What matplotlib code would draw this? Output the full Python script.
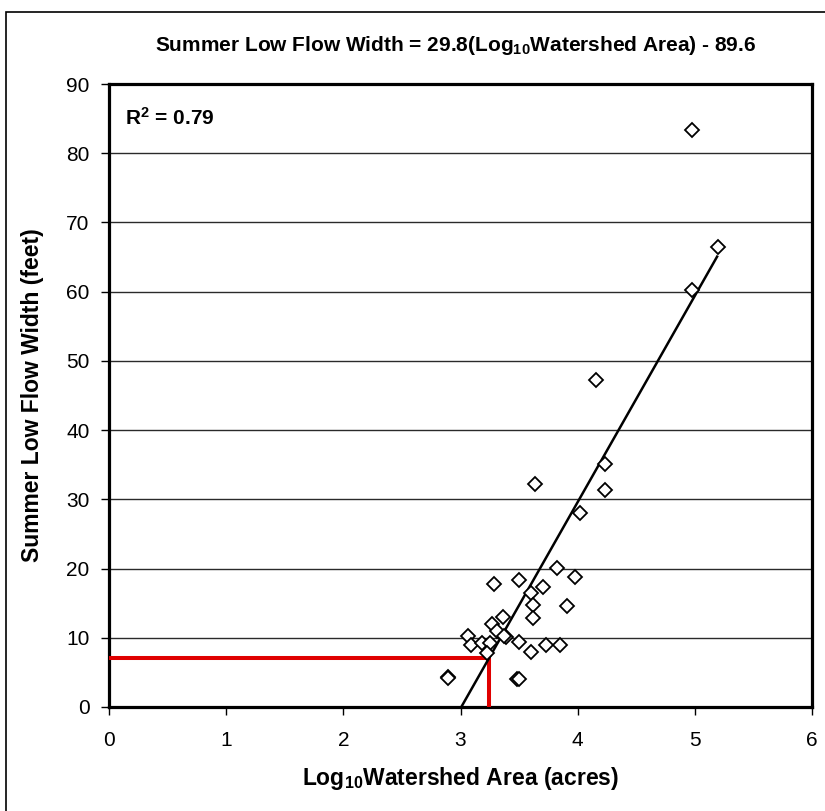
import matplotlib
matplotlib.use("Agg")
import matplotlib.pyplot as plt
import numpy as np
from matplotlib.patches import Rectangle

# observed points: log10 watershed area vs summer low flow width
log_area = [3.29, 3.50, 3.82, 3.98, 3.70, 3.60, 3.62, 3.91, 3.62, 3.36,
            3.27, 3.31, 3.06, 3.39, 3.37, 3.09, 3.18, 3.25, 3.50, 3.73,
            3.85, 3.60, 3.23, 2.89, 2.89, 3.48, 3.50,
            4.98, 5.20, 4.98, 4.16, 4.23, 3.64, 4.23, 4.02]
width_ft = [17.8, 18.3, 20.1, 18.8, 17.3, 16.5, 14.8, 14.6, 12.8, 13.0,
            12.0, 11.0, 10.3, 10.1, 10.2, 9.0, 9.2, 9.2, 9.4, 9.0,
            9.0, 7.9, 7.8, 4.4, 4.2, 4.0, 4.0,
            83.4, 66.5, 60.2, 47.2, 35.1, 32.2, 31.3, 28.0]

# regression: width = 29.8 * log10(area) - 89.6
slope = 29.8
intercept = -89.6
fit_x = [-intercept / slope, 5.19]

# example reading (red guide lines)
ex_x = 3.245
ex_y = 7.1

plt.rcParams['font.family'] = ['Liberation Sans', 'DejaVu Sans']
plt.rcParams['mathtext.fontset'] = 'custom'
plt.rcParams['mathtext.rm'] = 'Liberation Sans'
plt.rcParams['mathtext.bf'] = 'Liberation Sans:bold'
plt.rcParams['mathtext.it'] = 'Liberation Sans:italic'

fig = plt.figure(figsize=(8.25, 8.11), dpi=100)
ax = fig.add_axes([109 / 825, 104 / 811, 703 / 825, 623 / 811])

ax.set_xlim(0, 6)
ax.set_ylim(0, 90)
ax.set_yticks(np.arange(0, 91, 10))
ax.set_xticks(np.arange(0, 7, 1))
ax.grid(axis='y', color='#2a2a2a', linewidth=1.0)
ax.set_axisbelow(True)

ax.plot(ex_x * np.array([0, 1, 1]), [ex_y, ex_y, 0], color='#e00000', lw=2.9,
        solid_joinstyle='miter', zorder=3)

fx = np.array(fit_x)
ax.plot(fx, slope * fx + intercept, color='black', lw=1.8, zorder=4)

ax.plot(log_area, width_ft, linestyle='none', marker='D', markersize=6.8,
        markerfacecolor='white', markeredgecolor='black', markeredgewidth=1.3,
        zorder=5, clip_on=False)

for s in ax.spines.values():
    s.set_linewidth(2.3)
ax.tick_params(direction='out', length=5.5, width=1, labelsize=15)
ax.tick_params(axis='x', pad=12)
ax.tick_params(axis='y', pad=8.5)

ax.set_xlabel(r'Log$_{\mathbf{10}}$Watershed Area (acres)', fontsize=16.5,
              fontweight='bold', va='center')
ax.xaxis.set_label_coords(0.5, (707 - 778) / 623)
ax.set_ylabel('Summer Low Flow Width (feet)', fontsize=16.5, fontweight='bold',
              va='center')
ax.yaxis.set_label_coords((33 - 109) / 703, 0.5)

fig.text(456 / 825, 1 - 51 / 811,
         r'Summer Low Flow Width = 29.8(Log$_{\mathbf{10}}$Watershed Area) - 89.6',
         ha='center', va='baseline', fontsize=15, fontweight='bold')
ax.text(0.0228, 0.934, r'R$^{\mathbf{2}}$ = 0.79', transform=ax.transAxes,
        ha='left', va='baseline', fontsize=15, fontweight='bold')

# outer chart frame
fig.add_artist(Rectangle((6 / 825, -0.1), 1.2, 1 - 12 / 811 + 0.1,
                         transform=fig.transFigure, fill=False,
                         edgecolor='black', lw=1.2))

fig.savefig('out.png', dpi=100)
